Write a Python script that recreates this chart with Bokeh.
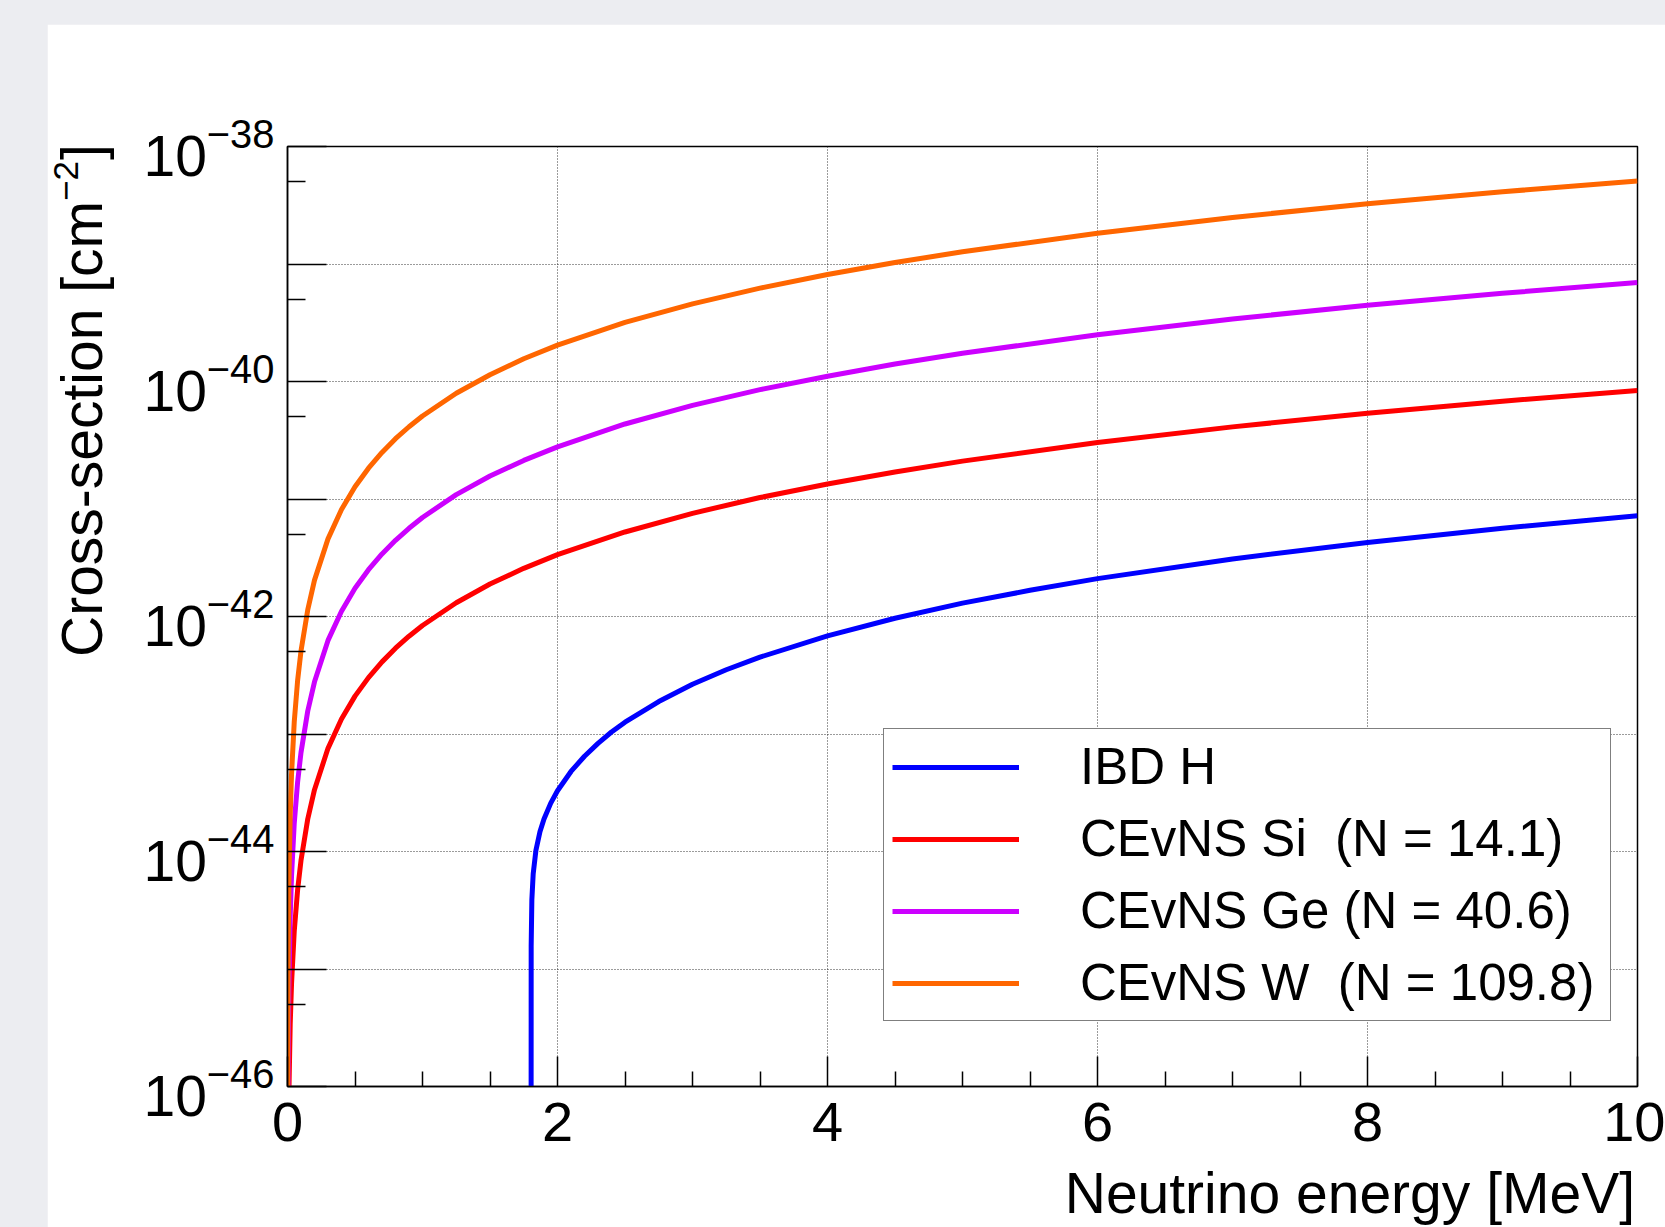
from bokeh.plotting import figure
from bokeh.models import Range1d, FixedTicker, Legend, LegendItem, Label, LogTickFormatter
from bokeh.layouts import column
from bokeh.embed import file_html
from bokeh.resources import INLINE
import math

# ---------------- data ----------------
energy_cevns = [0.001, 0.002, 0.005, 0.01, 0.02, 0.03, 0.05, 0.075, 0.1, 0.15, 0.2,
                0.3, 0.4, 0.5, 0.6, 0.7, 0.8, 0.9, 1.0, 1.25, 1.5, 1.75, 2.0, 2.5,
                3.0, 3.5, 4.0, 4.5, 5.0, 6.0, 7.0, 8.0, 9.0, 10.0]
xs_si = [8.39e-49, 3.36e-48, 2.10e-47, 8.39e-47, 3.36e-46, 7.55e-46, 2.10e-45, 4.72e-45,
         8.39e-45, 1.89e-44, 3.36e-44, 7.55e-44, 1.34e-43, 2.10e-43, 3.02e-43, 4.11e-43,
         5.37e-43, 6.80e-43, 8.39e-43, 1.31e-42, 1.89e-42, 2.57e-42, 3.36e-42, 5.24e-42,
         7.55e-42, 1.03e-41, 1.34e-41, 1.70e-41, 2.10e-41, 3.02e-41, 4.11e-41, 5.37e-41,
         6.80e-41, 8.39e-41]
xs_ge = [6.96e-48, 2.78e-47, 1.74e-46, 6.96e-46, 2.78e-45, 6.26e-45, 1.74e-44, 3.91e-44,
         6.96e-44, 1.57e-43, 2.78e-43, 6.26e-43, 1.11e-42, 1.74e-42, 2.50e-42, 3.41e-42,
         4.45e-42, 5.63e-42, 6.96e-42, 1.09e-41, 1.57e-41, 2.13e-41, 2.78e-41, 4.35e-41,
         6.26e-41, 8.52e-41, 1.11e-40, 1.41e-40, 1.74e-40, 2.50e-40, 3.41e-40, 4.45e-40,
         5.63e-40, 6.96e-40]
xs_w = [5.09e-47, 2.04e-46, 1.27e-45, 5.09e-45, 2.04e-44, 4.58e-44, 1.27e-43, 2.86e-43,
        5.09e-43, 1.14e-42, 2.04e-42, 4.58e-42, 8.14e-42, 1.27e-41, 1.83e-41, 2.49e-41,
        3.26e-41, 4.12e-41, 5.09e-41, 7.95e-41, 1.14e-40, 1.56e-40, 2.04e-40, 3.18e-40,
        4.58e-40, 6.23e-40, 8.14e-40, 1.03e-39, 1.27e-39, 1.83e-39, 2.49e-39, 3.26e-39,
        4.12e-39, 5.09e-39]
energy_ibd = [1.804, 1.805, 1.81, 1.82, 1.84, 1.87, 1.9, 1.95, 2.0, 2.1, 2.2, 2.3, 2.4,
              2.5, 2.75, 3.0, 3.25, 3.5, 4.0, 4.5, 5.0, 5.5, 6.0, 7.0, 8.0, 9.0, 10.0]
xs_ibd = [1e-48, 1.56e-45, 3.87e-45, 6.47e-45, 1.02e-44, 1.47e-44, 1.89e-44, 2.58e-44,
          3.29e-44, 4.80e-44, 6.47e-44, 8.32e-44, 1.04e-43, 1.26e-43, 1.89e-43, 2.65e-43,
          3.52e-43, 4.51e-43, 6.85e-43, 9.67e-43, 1.30e-42, 1.67e-42, 2.10e-42, 3.09e-42,
          4.27e-42, 5.64e-42, 7.21e-42]

series_labels = ["IBD H", "CEvNS Si\u00a0 (N = 14.1)", "CEvNS Ge (N = 40.6)",
                 "CEvNS W\u00a0 (N = 109.8)"]
series_colors = ["#0000ff", "#ff0000", "#cc00ff", "#ff6600"]

x_major = [0, 2, 4, 6, 8, 10]
x_minor = [0.5, 1.0, 1.5, 2.5, 3.0, 3.5, 4.5, 5.0, 5.5, 6.5, 7.0, 7.5, 8.5, 9.0, 9.5]
y_decades = [-46, -45, -44, -43, -42, -41, -40, -39, -38]
y_label_exponents = [-46, -44, -42, -40, -38]
y_minor_mantissa = 5

x_title = "Neutrino energy [MeV]"
y_title = "Cross-section [cm"
y_title_sup = "\u22122"
y_title_end = "]"

FONT = "Liberation Sans"

# ---------------- figure ----------------
y_ticks = [float("1e%d" % e) for e in y_decades]
y_minor = [float("%de%d" % (y_minor_mantissa, e)) for e in y_decades[:-1]]

p = figure(width=1618, height=1203, x_range=Range1d(0, 10),
           y_range=Range1d(y_ticks[0], y_ticks[-1]),
           y_axis_type="log", output_backend="svg", toolbar_location=None,
           title=None)
p.margin = (24, 0, 0, 47)
p.min_border_left = 240
p.min_border_right = 28
p.min_border_top = 122
p.min_border_bottom = 141
p.background_fill_color = "white"
p.border_fill_color = "white"
p.outline_line_color = "black"
p.outline_line_width = 1.5
p.outline_line_alpha = 1.0

# x axis
xa = p.xaxis[0]
xa.ticker = FixedTicker(ticks=x_major, minor_ticks=x_minor)
xa.major_tick_in = 30
xa.major_tick_out = 0
xa.minor_tick_in = 15
xa.minor_tick_out = 0
xa.major_tick_line_width = 1.5
xa.minor_tick_line_width = 1.5
xa.major_tick_line_color = "black"
xa.minor_tick_line_color = "black"
xa.axis_line_width = 1.5
xa.axis_line_color = "black"
xa.major_label_text_font = FONT
xa.major_label_text_font_size = "56px"
xa.major_label_text_color = "black"
xa.major_label_standoff = 16

# y axis
ya = p.yaxis[0]
ya.ticker = FixedTicker(ticks=y_ticks, minor_ticks=y_minor)
ya.formatter = LogTickFormatter()
ya.major_tick_in = 39
ya.major_tick_out = 0
ya.minor_tick_in = 18
ya.minor_tick_out = 0
ya.major_tick_line_width = 1.5
ya.minor_tick_line_width = 1.5
ya.major_tick_line_color = "black"
ya.minor_tick_line_color = "black"
ya.axis_line_width = 1.5
ya.axis_line_color = "black"
ya.major_label_text_font = FONT
ya.major_label_text_font_size = "57px"
ya.major_label_text_color = "black"
ya.major_label_standoff = 13
ya.major_label_overrides = {t: "" for t, e in zip(y_ticks, y_decades)
                            if e not in y_label_exponents}

# grids
for g in (p.xgrid[0], p.ygrid[0]):
    g.grid_line_color = "#222222"
    g.grid_line_dash = "1 2"
    g.grid_line_width = 1
    g.grid_line_alpha = 0.9
p.xgrid[0].ticker = FixedTicker(ticks=x_major[1:-1])
p.ygrid[0].ticker = FixedTicker(ticks=y_ticks[1:-1])

# curves
renderers = []
for xs, ys, col in [(energy_ibd, xs_ibd, series_colors[0]),
                    (energy_cevns, xs_si, series_colors[1]),
                    (energy_cevns, xs_ge, series_colors[2]),
                    (energy_cevns, xs_w, series_colors[3])]:
    r = p.line(xs, ys, line_color=col, line_width=5)
    renderers.append(r)

# legend
legend = Legend(items=[LegendItem(label=lab, renderers=[r])
                       for lab, r in zip(series_labels, renderers)],
                location=(596, 65))
legend.glyph_width = 127
legend.glyph_height = 20
legend.label_standoff = 61
legend.label_text_font = FONT
legend.label_text_font_size = "51px"
legend.label_text_color = "black"
legend.label_height = 57
legend.label_width = 522
legend.spacing = 13
legend.padding = 8
legend.margin = 0
legend.border_line_color = "black"
legend.border_line_width = 1.5
legend.background_fill_color = "white"
legend.background_fill_alpha = 1.0
p.add_layout(legend)

# axis titles (placed in side panels so they are not clipped by the frame)
y0 = y_ticks[0]
p.add_layout(Label(x=0, y=y0, x_offset=-206, y_offset=429.5, angle=math.pi / 2,
                   text=y_title, text_align="left", text_baseline="alphabetic",
                   text_font=FONT, text_font_size="57px", text_color="black"), "left")
p.add_layout(Label(x=0, y=y0, x_offset=-222, y_offset=885.5, angle=math.pi / 2,
                   text=y_title_sup, text_align="left", text_baseline="alphabetic",
                   text_font=FONT, text_font_size="35px", text_color="black"), "below")
p.add_layout(Label(x=10, y=y0, x_offset=-2.5, y_offset=-106.5,
                   text=x_title, text_align="right", text_baseline="alphabetic",
                   text_font=FONT, text_font_size="57px", text_color="black"), "above")
p.add_layout(Label(x=0, y=y0, x_offset=-206, y_offset=926.5, angle=math.pi / 2,
                   text=y_title_end, text_align="left", text_baseline="alphabetic",
                   text_font=FONT, text_font_size="57px", text_color="black"), "above")

root = column(p, styles={"background-color": "#ecedf1"})
open("out.html", "w").write(file_html(root, INLINE))
